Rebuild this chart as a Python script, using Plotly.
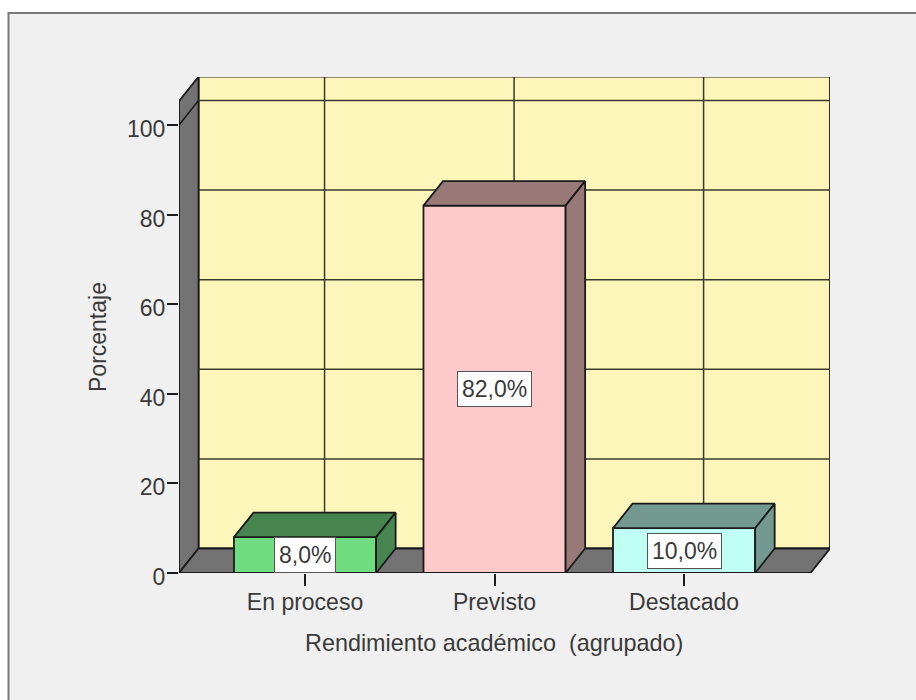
import plotly.graph_objects as go

categories = ["En proceso", "Previsto", "Destacado"]
percentages = [8.0, 82.0, 10.0]
value_labels = ["8,0%", "82,0%", "10,0%"]
y_ticks = [0, 20, 40, 60, 80, 100]

front_colors = ["#70dc80", "#ffc9c9", "#bffff3"]
shade_colors = ["#46854f", "#997878", "#739990"]

FONT = "Liberation Sans"
TEXT = "#3a3a3a"
EDGE = "#1a1a1a"

# oblique depth of the 3D box, in axis units
DX = 0.103
DY = 5.47
BAR_W = 0.75
X_MIN = -0.665
X_MAX = 2.77 - DX
Y_TOP = 105.3

fig = go.Figure()


def poly(xs, ys, fill, line=EDGE, width=1.8):
    fig.add_trace(go.Scatter(
        x=xs + xs[:1], y=ys + ys[:1], mode="lines", fill="toself", fillcolor=fill,
        line=dict(color=line, width=width), hoverinfo="skip", cliponaxis=False,
    ))


def seg(xs, ys, color="#3a3a2a", width=1.5):
    fig.add_trace(go.Scatter(
        x=xs, y=ys, mode="lines", line=dict(color=color, width=width),
        hoverinfo="skip", cliponaxis=False,
    ))


# walls and floor
poly([X_MIN + DX, X_MAX + DX, X_MAX + DX, X_MIN + DX], [DY, DY, Y_TOP + DY, Y_TOP + DY], "#fcf6ba")
poly([X_MIN, X_MIN + DX, X_MIN + DX, X_MIN], [0, DY, Y_TOP + DY, Y_TOP], "#737373")
poly([X_MIN, X_MAX, X_MAX + DX, X_MIN + DX], [0, 0, DY, DY], "#737373")

# grid on the back wall
for tick in y_ticks[1:]:
    seg([X_MIN + DX, X_MAX + DX], [tick + DY, tick + DY])
seg([X_MIN, X_MIN + DX], [100, 100 + DY], color=EDGE)
for i in range(len(categories)):
    seg([i + DX, i + DX], [DY, Y_TOP + DY])

# bars
for i, val in enumerate(percentages):
    x0 = i - BAR_W / 2
    x1 = i + BAR_W / 2
    poly([x0, x1, x1, x0], [0, 0, val, val], front_colors[i])
    poly([x0, x1, x1 + DX, x0 + DX], [val, val, val + DY, val + DY], shade_colors[i])
    poly([x1, x1 + DX, x1 + DX, x1], [0, DY, val + DY, val], shade_colors[i])

seg([X_MIN, X_MAX], [0, 0], color=EDGE, width=1.8)

for i, val in enumerate(percentages):
    fig.add_annotation(
        x=i, y=val / 2, text=value_labels[i], showarrow=False,
        font=dict(family=FONT, size=23, color=TEXT),
        bgcolor="white", bordercolor="#555555", borderwidth=1, borderpad=4,
    )

# axis titles sit off-centre from the plot area, so they are placed by hand
fig.add_annotation(
    xref="paper", yref="paper", x=(493.5 - 179) / 651, y=(573 - 643) / 496,
    xanchor="center", yanchor="middle",
    text="Rendimiento académico\u00a0 (agrupado)", showarrow=False,
    font=dict(family=FONT, size=23.4, color=TEXT),
)
fig.add_annotation(
    xref="paper", yref="paper", x=(98 - 179) / 651, y=(573 - 337) / 496,
    xanchor="center", yanchor="middle",
    text="Porcentaje", textangle=-90, showarrow=False,
    font=dict(family=FONT, size=23, color=TEXT),
)

# chart frame, open at the right and bottom like the screenshot
fig.add_shape(
    type="rect", xref="paper", yref="paper", layer="below",
    x0=(8.5 - 179) / 651, x1=(930 - 179) / 651, y0=(573 - 720) / 496, y1=(573 - 13) / 496,
    fillcolor="#f0f0f0", line=dict(color="#7a7a7a", width=2),
)

fig.update_layout(
    width=916, height=700, autosize=False,
    margin=dict(l=179, r=86, t=77, b=127),
    paper_bgcolor="white", plot_bgcolor="rgba(0,0,0,0)",
    showlegend=False,
    font=dict(family=FONT, size=23, color=TEXT),
    xaxis=dict(
        range=[X_MIN, X_MAX + DX], tickvals=list(range(len(categories))), ticktext=categories,
        showgrid=False, zeroline=False, showline=False,
        ticks="outside", ticklen=12, tickwidth=1.8, tickcolor=EDGE,
        ticklabelstandoff=-4,
    ),
    yaxis=dict(
        range=[0, 110.7], tickvals=y_ticks,
        showgrid=False, zeroline=False, showline=False,
        ticks="outside", ticklen=11, tickwidth=1.8, tickcolor=EDGE,
        ticklabelstandoff=-3, ticklabelshift=4,
    ),
)

fig.write_html("out.html", config=dict(displayModeBar=False),
               post_script="document.body.style.margin='0';")
